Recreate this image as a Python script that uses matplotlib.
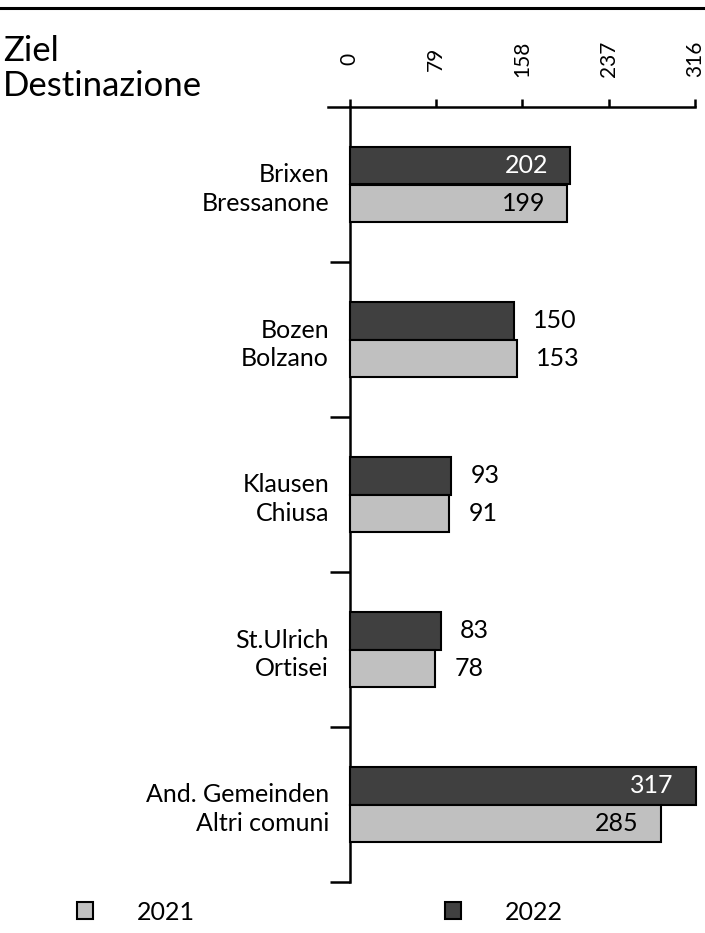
import numpy as np
from matplotlib import pyplot as plt
from matplotlib.patches import Patch
from matplotlib.lines import Line2D

# data
categories = ['Brixen\nBressanone', 'Bozen\nBolzano', 'Klausen\nChiusa',
              'St.Ulrich\nOrtisei', 'And. Gemeinden\nAltri comuni']
values_2021 = [199, 153, 91, 78, 285]
values_2022 = [202, 150, 93, 83, 317]
x_ticks = [0, 79, 158, 237, 316]

dark = '#404040'
light = '#c0c0c0'

plt.rcParams['font.family'] = ['Lato', 'DejaVu Sans']

fig = plt.figure(figsize=(7.05, 9.33), dpi=100)
ax = fig.add_axes([328 / 705, 1 - 882 / 933, (695 - 328) / 705, (882 - 107) / 933])

n = len(categories)
centers = np.arange(n) + 0.5
bh = 0.245

bars22 = ax.barh(centers - bh / 2, values_2022, height=bh, color=dark,
                 edgecolor='black', linewidth=1.5, clip_on=False, zorder=3)
bars21 = ax.barh(centers + bh / 2, values_2021, height=bh, color=light,
                 edgecolor='black', linewidth=1.5, clip_on=False, zorder=3)


def label_bars(bars, vals, inside_color):
    for b, v in zip(bars, vals):
        yc = b.get_y() + b.get_height() / 2
        if v > 180:
            ax.annotate(str(v), (v, yc), xytext=(-16, 0), textcoords='offset points',
                        ha='right', va='center', fontsize=18, color=inside_color,
                        zorder=4, annotation_clip=False)
        else:
            ax.annotate(str(v), (v, yc), xytext=(14, 0), textcoords='offset points',
                        ha='left', va='center', fontsize=18, color='black',
                        zorder=4, annotation_clip=False)


label_bars(bars22, values_2022, 'white')
label_bars(bars21, values_2021, 'black')

ax.set_xlim(-20, 316)
ax.set_ylim(n, 0)

# spines
for s in ['right', 'bottom']:
    ax.spines[s].set_visible(False)
ax.spines['left'].set_position(('data', 0))
ax.spines['left'].set_linewidth(1.8)
ax.spines['top'].set_linewidth(1.8)

ax.xaxis.tick_top()
ax.set_xticks(x_ticks)
ax.set_xticklabels([str(t) for t in x_ticks], rotation=90, fontsize=15, va='center')
ax.tick_params(axis='x', direction='out', length=5.5, width=1.8, pad=29)

ax.set_yticks(np.arange(1, n + 1))
ax.set_yticklabels([])
ax.tick_params(axis='y', which='major', direction='out', length=14.5, width=1.8)
ax.set_yticks(centers, minor=True)
ax.set_yticklabels(categories, minor=True, fontsize=18, linespacing=1.3)
ax.tick_params(axis='y', which='minor', length=0, pad=15)

# title block and top rule
fig.text(3 / 705, 1 - 35 / 933, 'Ziel\nDestinazione', ha='left', va='top',
         fontsize=25, linespacing=1.12)
fig.add_artist(Line2D([0, 1], [1 - 8 / 933, 1 - 8 / 933], color='black', linewidth=2.2))

# legend
handles = [Patch(facecolor=light, edgecolor='black', linewidth=1.5, label='2021'),
           Patch(facecolor=dark, edgecolor='black', linewidth=1.5, label='2022')]
fig.legend(handles=handles, loc='center left', bbox_to_anchor=(77 / 705, 1 - 912 / 933),
           ncol=2, frameon=False, fontsize=18, handlelength=0.65, handleheight=0.65,
           handletextpad=1.75, columnspacing=10.0, borderaxespad=0, borderpad=0)

fig.savefig('out.png', dpi=100)
